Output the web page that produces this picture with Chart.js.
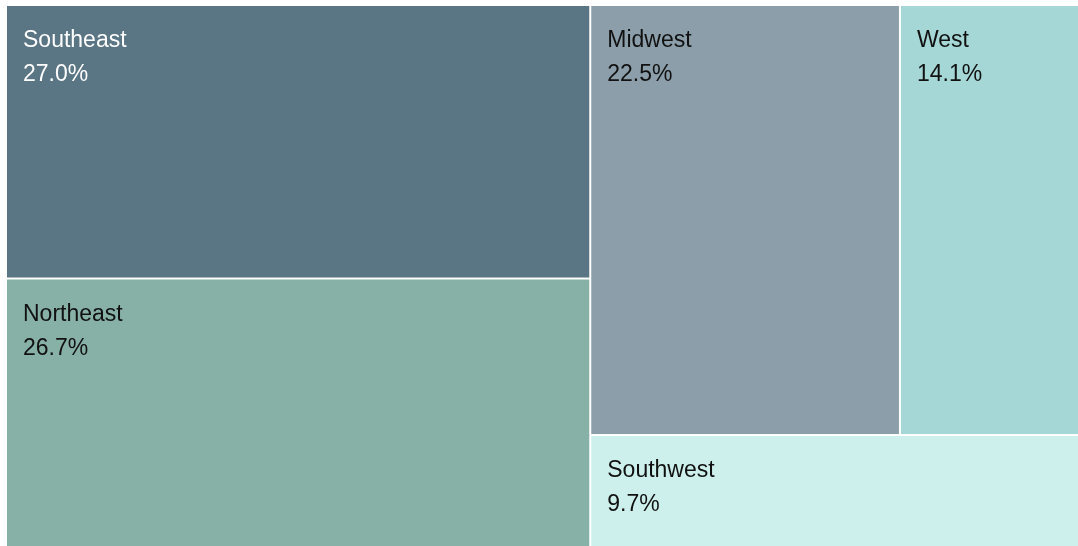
<!DOCTYPE html>
<html>
<head>
<meta charset="utf-8">
<script src="https://cdn.jsdelivr.net/npm/chart.js@4/dist/chart.umd.min.js"></script>
<style>
  html, body { margin: 0; padding: 0; background: #fff; overflow: hidden; }
  #wrap { width: 1094px; height: 549px; position: relative; }
</style>
</head>
<body>
<div id="wrap"><canvas id="treemap"></canvas></div>
<script>
// region shares of total (%)
const regions = ['Southeast', 'Northeast', 'Midwest', 'West', 'Southwest'];
const shares = [27.0, 26.7, 22.5, 14.1, 9.7];
const fills = ['#5a7583', '#87b1a7', '#8b9ea9', '#a5d7d6', '#cdf0ec'];
const textColors = ['#ffffff', '#111111', '#111111', '#111111', '#111111'];

// squarified grouping: left column, right column = (top row, bottom)
const layout = {
  dir: 'h',
  children: [
    { dir: 'v', children: [0, 1] },
    { dir: 'v', children: [{ dir: 'h', children: [2, 3] }, 4] },
  ],
};

const total = (node) => typeof node === 'number' ? shares[node] : node.children.reduce((s, c) => s + total(c), 0);

// cells in data units (0..100 on both axes)
function place(node, x0, y0, x1, y1, out) {
  if (typeof node === 'number') {
    out.push({ i: node, x0, y0, x1, y1 });
    return out;
  }
  const sum = total(node);
  let pos = node.dir === 'h' ? x0 : y0;
  node.children.forEach((c) => {
    const frac = total(c) / sum;
    if (node.dir === 'h') {
      const w = (x1 - x0) * frac;
      place(c, pos, y0, pos + w, y1, out);
      pos += w;
    } else {
      const h = (y1 - y0) * frac;
      place(c, x0, pos, x1, pos + h, out);
      pos += h;
    }
  });
  return out;
}

const cells = place(layout, 0, 0, 100, 100, []);

const treemapPlugin = {
  id: 'treemapCells',
  afterDatasetsDraw(chart) {
    const { ctx, scales: { x, y } } = chart;
    ctx.save();
    cells.forEach((c) => {
      const left = x.getPixelForValue(c.x0);
      const right = x.getPixelForValue(c.x1);
      const top = y.getPixelForValue(c.y0);
      const bottom = y.getPixelForValue(c.y1);
      ctx.fillStyle = fills[c.i];
      ctx.fillRect(left + 1, top + 1, right - left - 2, bottom - top - 2);

      ctx.fillStyle = textColors[c.i];
      ctx.font = '23px "Liberation Sans", Arial, sans-serif';
      ctx.textBaseline = 'alphabetic';
      ctx.textAlign = 'left';
      ctx.fillText(regions[c.i], left + 17, top + 42);
      ctx.fillText(shares[c.i].toFixed(1) + '%', left + 17, top + 76);
    });
    ctx.restore();
  },
};

new Chart(document.getElementById('treemap').getContext('2d'), {
  type: 'scatter',
  data: { datasets: [{ data: [], pointRadius: 0 }] },
  options: {
    responsive: true,
    maintainAspectRatio: false,
    animation: false,
    layout: { padding: { left: 6, top: 5, right: 0, bottom: 0 } },
    plugins: { legend: { display: false }, tooltip: { enabled: false } },
    scales: {
      x: { type: 'linear', min: 0, max: 100, display: false },
      y: { type: 'linear', min: 0, max: 100, reverse: true, display: false },
    },
  },
  plugins: [treemapPlugin],
});
</script>
</body>
</html>
